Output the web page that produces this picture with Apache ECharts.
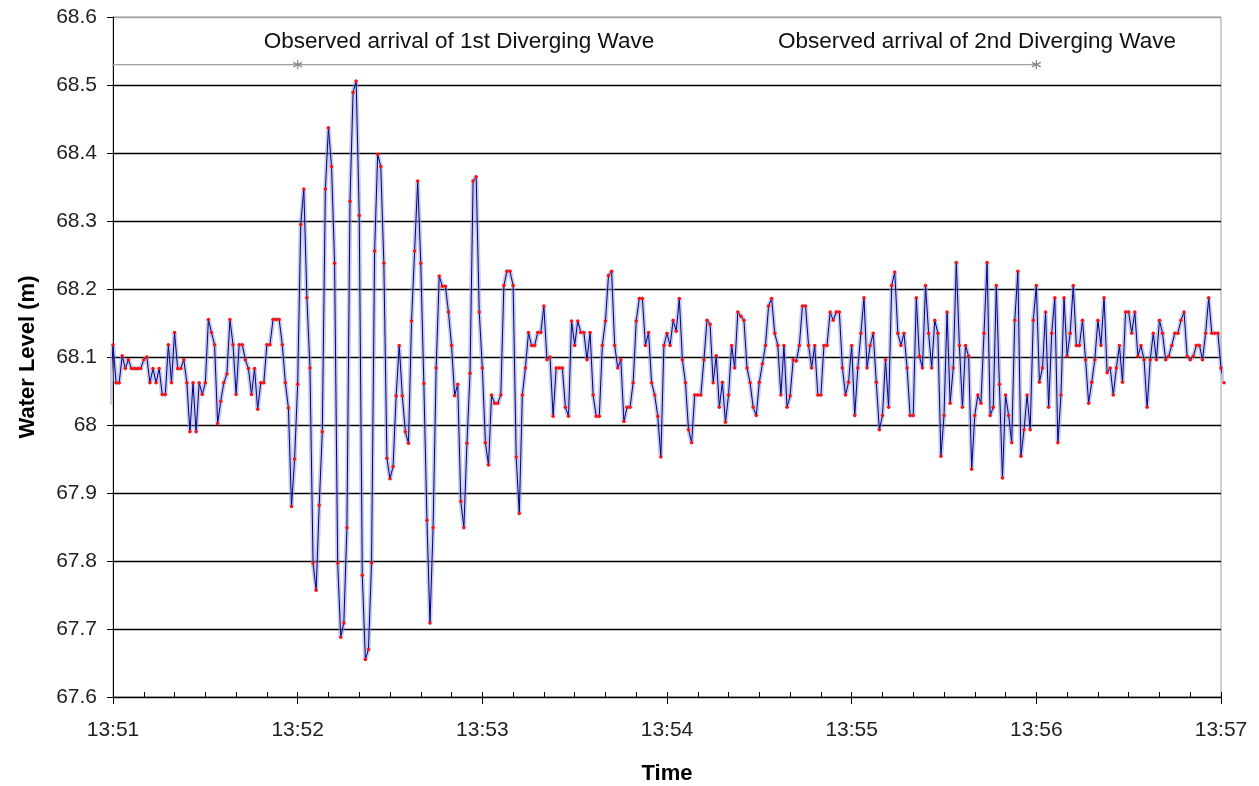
<!DOCTYPE html>
<html><head><meta charset="utf-8">
<script src="https://cdn.jsdelivr.net/npm/echarts@6/dist/echarts.min.js"></script>
<style>html,body{margin:0;padding:0;background:#fff}#c{width:1259px;height:786px}</style>
</head><body><div id="c"></div>
<script>
// ---- data ----
const xTickLabels = ['13:51','13:52','13:53','13:54','13:55','13:56','13:57'];
const yTickLabels = ['67.6','67.7','67.8','67.9','68','68.1','68.2','68.3','68.4','68.5','68.6'];
const firstSampleSec = -1;   // seconds after 13:51:00 of the first sample
const sampleStepSec = 1;
const waterLevel = [
68.030,68.118,68.062,68.062,68.102,68.083,68.096,68.083,68.083,68.083,68.083,
68.096,68.100,68.062,68.083,68.062,68.083,68.045,68.045,68.118,68.062,
68.136,68.083,68.083,68.096,68.062,67.990,68.062,67.990,68.062,68.045,
68.062,68.155,68.136,68.118,68.002,68.035,68.062,68.075,68.155,68.118,
68.045,68.118,68.118,68.096,68.083,68.045,68.083,68.023,68.062,68.062,
68.118,68.118,68.155,68.155,68.155,68.118,68.062,68.025,67.880,67.950,68.060,
68.295,68.347,68.187,68.084,67.797,67.757,67.882,67.990,
68.347,68.437,68.380,68.238,67.797,67.688,67.709,67.849,68.329,68.489,
68.506,68.308,67.779,67.655,67.670,67.797,68.256,68.398,68.380,68.238,
67.951,67.921,67.939,68.043,68.117,68.043,67.990,67.973,68.153,68.256,
68.359,68.238,68.061,67.860,67.709,67.849,68.084,68.219,68.204,68.204,
68.166,68.117,68.043,68.060,67.888,67.849,67.973,68.076,68.359,68.365,
68.166,68.084,67.974,67.941,68.044,68.032,68.032,68.044,68.205,68.226,
68.226,68.205,67.953,67.870,68.044,68.084,68.136,68.117,68.117,68.136,
68.136,68.175,68.096,68.100,68.013,68.084,68.084,68.084,68.026,68.013,
68.153,68.117,68.153,68.136,68.136,68.096,68.136,68.044,68.013,68.013,
68.117,68.153,68.220,68.226,68.117,68.084,68.096,68.005,68.026,68.026,
68.062,68.153,68.186,68.186,68.117,68.136,68.062,68.044,68.013,67.953,
68.117,68.135,68.117,68.154,68.138,68.186,68.096,68.062,67.993,67.974,
68.044,68.044,68.044,68.096,68.154,68.148,68.062,68.102,68.026,68.063,
68.004,68.044,68.117,68.084,68.166,68.160,68.154,68.084,68.062,68.026,
68.014,68.063,68.090,68.117,68.175,68.186,68.135,68.117,68.044,68.117,
68.026,68.043,68.096,68.094,68.117,68.175,68.175,68.117,68.084,68.117,
68.044,68.044,68.117,68.117,68.166,68.154,68.166,68.166,68.084,68.044,
68.063,68.117,68.014,68.084,68.135,68.187,68.084,68.117,68.135,68.063,
67.993,68.014,68.096,68.026,68.205,68.225,68.135,68.117,68.135,68.084,
68.014,68.014,68.187,68.101,68.084,68.205,68.135,68.084,68.154,68.135,
67.954,68.014,68.166,68.032,68.084,68.239,68.117,68.026,68.117,68.101,
67.935,68.014,68.044,68.032,68.135,68.239,68.014,68.026,68.205,68.060,
67.922,68.044,68.014,67.974,68.154,68.226,67.954,67.993,68.044,67.993,
68.154,68.205,68.063,68.084,68.166,68.026,68.135,68.187,67.974,68.044,
68.187,68.101,68.135,68.205,68.117,68.117,68.154,68.096,68.032,68.063,
68.096,68.154,68.117,68.187,68.077,68.084,68.044,68.084,68.117,68.063,
68.166,68.166,68.135,68.166,68.101,68.117,68.096,68.026,68.096,68.135,
68.096,68.154,68.135,68.096,68.101,68.117,68.135,68.135,68.154,68.166,
68.101,68.096,68.101,68.117,68.117,68.096,68.135,68.187,68.135,68.135,
68.135,68.084,68.062
];
const arrivalLabels = ['Observed arrival of 1st Diverging Wave','Observed arrival of 2nd Diverging Wave'];
const arrivalSec = [60, 300];
const arrivalLevel = 68.53;

// ---- layout / style ----
const FONT = '"Liberation Sans", Arial, sans-serif';
const labelCenters = [[112.4, 68.563], [280.7, 68.563]]; // text anchor (sec, level)
const lineStartSec = -1.5;

const series = waterLevel.map((v, i) => [firstSampleSec + i * sampleStepSec, v]);
const asterisk = 'path://M5,0L5,10M0.67,2.5L9.33,7.5M0.67,7.5L9.33,2.5';

const chart = echarts.init(document.getElementById('c'), null, {renderer: 'canvas'});
const splitColors = yTickLabels.map((_, i) => i === yTickLabels.length - 1 ? '#a0a0a0' : '#000');

chart.setOption({
  animation: false,
  backgroundColor: '#fff',
  grid: {left: 113, right: 38, top: 17, bottom: 89, show: true, borderColor: '#a0a0a0', borderWidth: 1,
         containLabel: false, outerBoundsMode: 'none'},
  xAxis: [{
    type: 'value', min: 0, max: 360, interval: 60, position: 'bottom',
    axisLine: {show: true, lineStyle: {color: '#000', width: 1}},
    axisTick: {show: true, inside: false, length: 7, lineStyle: {color: '#000'}},
    axisLabel: {margin: 23, fontFamily: FONT, fontSize: 21, color: '#222',
      formatter: v => xTickLabels[Math.round(v / 60)] ?? ''},
    splitLine: {show: false},
    name: 'Time', nameLocation: 'middle', nameGap: 66,
    nameTextStyle: {fontFamily: FONT, fontSize: 22, fontWeight: 'bold', color: '#000'}
  }, {
    type: 'value', min: 0, max: 360, interval: 60, position: 'bottom',
    axisLine: {show: false},
    axisTick: {show: true, inside: true, length: 5, lineStyle: {color: '#000'}},
    minorTick: {show: true, splitNumber: 6, length: 5, lineStyle: {color: '#000'}},
    axisLabel: {show: false}, splitLine: {show: false}
  }],
  yAxis: {
    type: 'value', min: 67.6, max: 68.6, interval: 0.1,
    axisLine: {show: true, lineStyle: {color: '#000', width: 1}},
    axisTick: {show: true, inside: false, length: 6, lineStyle: {color: '#000'}},
    axisLabel: {margin: 16, fontFamily: FONT, fontSize: 21, color: '#222',
      formatter: v => yTickLabels[Math.round((v - 67.6) * 10)] ?? ''},
    splitLine: {show: true, lineStyle: {color: splitColors, width: 1.3}},
    name: 'Water Level (m)', nameLocation: 'middle', nameGap: 74, nameRotate: 90,
    nameTextStyle: {fontFamily: FONT, fontSize: 22, fontWeight: 'bold', color: '#000'}
  },
  series: [
    {type: 'line', xAxisIndex: 0, data: [[lineStartSec, arrivalLevel]].concat(arrivalSec.map(s => [s, arrivalLevel])),
     symbol: (val, p) => p.dataIndex === 0 ? 'none' : asterisk,
     symbolSize: 9, showSymbol: true, showAllSymbol: true, clip: false,
     lineStyle: {color: '#a0a0a0', width: 1.3},
     itemStyle: {color: 'rgba(0,0,0,0)', borderColor: '#8a8a8a', borderWidth: 1.3},
     z: 3},
    {type: 'line', xAxisIndex: 0, data: series, showSymbol: false, clip: false,
     lineStyle: {color: 'rgba(150,155,205,0.5)', width: 4.5}, z: 4, silent: true},
    {type: 'line', xAxisIndex: 0, data: series, clip: false,
     symbol: (val, p) => p.dataIndex === 0 ? 'none' : 'circle',
     symbolSize: 3.5, showSymbol: true, showAllSymbol: true,
     lineStyle: {color: '#00008b', width: 1},
     itemStyle: {color: '#ff1010', borderWidth: 0}, z: 5}
  ]
});

const g = labelCenters.map((c, i) => {
  const p = chart.convertToPixel({xAxisIndex: 0, yAxisIndex: 0}, c);
  return {type: 'text', x: p[0], y: p[1], z: 10,
    style: {text: arrivalLabels[i], fontFamily: FONT, fontSize: 22.5, fill: '#111',
      align: 'center', verticalAlign: 'middle'}};
});
chart.setOption({graphic: g});
</script></body></html>
